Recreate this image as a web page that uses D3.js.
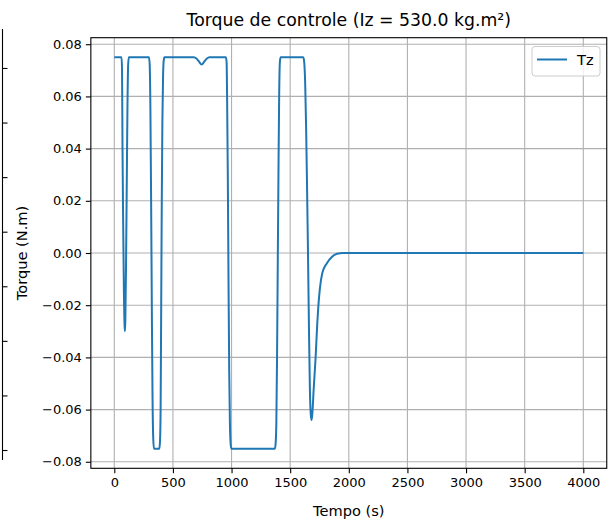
<!DOCTYPE html>
<html>
<head>
<meta charset="utf-8">
<script src="https://cdn.jsdelivr.net/npm/d3@7"></script>
<style>
  html, body { margin: 0; padding: 0; background: #fff; }
  svg { display: block; font-family: "DejaVu Sans", sans-serif; }
</style>
</head>
<body>
<svg id="chart" width="609" height="520"></svg>
<script>
// ---- Data ----
const timeS = [0, 62, 66, 70, 76, 82, 88, 91, 94, 100, 106, 112, 118, 124,
  296, 302, 308, 314, 320, 326, 332, 338, 384, 390, 395, 400, 405, 410, 416, 422, 428,
  680, 700, 720, 745, 770, 790, 810,
  952, 958, 962, 968, 974, 980, 986, 992, 998,
  1370, 1376, 1382, 1388, 1394, 1400, 1406, 1412, 1418,
  1612, 1620, 1628, 1636, 1644, 1652, 1660, 1668, 1676, 1683, 1690, 1700, 1717, 1731, 1740, 1752, 1774, 1812, 1855, 1900, 1950, 2000, 4000];
const torqueTz = [0.075, 0.075, 0.070, 0.040, 0.010, -0.015, -0.028, -0.030, -0.026, -0.005, 0.025, 0.055, 0.072, 0.075,
  0.075, 0.072, 0.055, 0.020, -0.020, -0.055, -0.071, -0.075, -0.075, -0.072, -0.060, -0.020, 0.020, 0.050, 0.068, 0.074, 0.075,
  0.075, 0.0745, 0.0735, 0.0722, 0.0735, 0.0745, 0.075,
  0.075, 0.073, 0.060, 0.030, -0.010, -0.045, -0.065, -0.073, -0.075,
  -0.075, -0.073, -0.065, -0.040, -0.005, 0.030, 0.060, 0.073, 0.075,
  0.075, 0.073, 0.065, 0.048, 0.025, 0.000, -0.028, -0.052, -0.062, -0.064, -0.061, -0.0525, -0.040, -0.027, -0.0206, -0.0142, -0.0077, -0.0040, -0.0015, -0.0003, 0, 0, 0];
const xTicks = [0, 500, 1000, 1500, 2000, 2500, 3000, 3500, 4000];
const yTicks = [-0.08, -0.06, -0.04, -0.02, 0.00, 0.02, 0.04, 0.06, 0.08];
const neighbourTicks = [1, 2, 3, 4, 5, 6, 7, 8];
const titleText = "Torque de controle (Iz = 530.0 kg.m²)";
const xLabel = "Tempo (s)";
const yLabel = "Torque (N.m)";
const seriesName = "Tz";

const data = timeS.map((t, i) => ({ t, v: torqueTz[i] }));

const svg = d3.select("#chart");
const L = 90.85, R = 606.75, T = 37.7, B = 468.3;
const x = d3.scaleLinear().domain([-200, 4200]).range([L, R]);
const y = d3.scaleLinear().domain([-0.0825, 0.0825]).range([B, T]);

// neighbouring subplot edge (partially visible at left)
const yN = d3.scaleLinear().domain([0.817, 8.714]).range([460, 29]);
const nAxis = svg.append("g").attr("transform", "translate(2.5,0)")
  .call(d3.axisRight(yN).tickValues(neighbourTicks).tickSize(5).tickFormat(""));
nAxis.select(".domain").attr("stroke", "#000").attr("stroke-width", 1.1).attr("d", "M0,29V460");
nAxis.selectAll(".tick line").attr("stroke", "#000").attr("stroke-width", 1.1);

// grid
const grid = svg.append("g");
grid.selectAll("line.gx").data(xTicks).enter().append("line")
  .attr("x1", d => x(d)).attr("x2", d => x(d)).attr("y1", T).attr("y2", B)
  .attr("stroke", "#b0b0b0").attr("stroke-width", 1.1);
grid.selectAll("line.gy").data(yTicks).enter().append("line")
  .attr("y1", d => y(d)).attr("y2", d => y(d)).attr("x1", L).attr("x2", R)
  .attr("stroke", "#b0b0b0").attr("stroke-width", 1.1);

// line
const line = d3.line().x(d => x(d.t)).y(d => y(d.v)).curve(d3.curveMonotoneX);
svg.append("path").datum(data).attr("d", line)
  .attr("fill", "none").attr("stroke", "#1f77b4").attr("stroke-width", 2)
  .attr("stroke-linejoin", "round").attr("stroke-linecap", "butt");

// axes
const xAxis = svg.append("g").attr("transform", `translate(0,${B})`)
  .call(d3.axisBottom(x).tickValues(xTicks).tickSize(5).tickPadding(4).tickFormat(d3.format("d")));
const yAxis = svg.append("g").attr("transform", `translate(${L},0)`)
  .call(d3.axisLeft(y).tickValues(yTicks).tickSize(5).tickPadding(4)
    .tickFormat(d => d3.format(".2f")(d).replace("-", "\u2212")));
[xAxis, yAxis].forEach(a => {
  a.select(".domain").remove();
  a.selectAll(".tick line").attr("stroke", "#000").attr("stroke-width", 1.1);
  a.selectAll(".tick text").attr("fill", "#000").style("font-size", "13px")
    .style("font-family", "DejaVu Sans, sans-serif");
});

// spines
svg.append("rect").attr("x", L).attr("y", T).attr("width", R - L).attr("height", B - T)
  .attr("fill", "none").attr("stroke", "#000").attr("stroke-width", 1.1);

// title and labels
svg.append("text").attr("x", (L + R) / 2).attr("y", 26).attr("text-anchor", "middle")
  .style("font-size", "17.3px").text(titleText);
svg.append("text").attr("x", (L + R) / 2).attr("y", 516).attr("text-anchor", "middle")
  .style("font-size", "14.6px").text(xLabel);
svg.append("text").attr("transform", `translate(27,${(T + B) / 2}) rotate(-90)`)
  .attr("text-anchor", "middle").style("font-size", "14.6px").text(yLabel);

// legend
const lg = svg.append("g");
lg.append("rect").attr("x", 532).attr("y", 46.5).attr("width", 68).attr("height", 29.5)
  .attr("rx", 3).attr("fill", "#fff").attr("fill-opacity", 0.8)
  .attr("stroke", "#cccccc").attr("stroke-width", 1);
lg.append("line").attr("x1", 537).attr("x2", 567).attr("y1", 59.5).attr("y2", 59.5)
  .attr("stroke", "#1f77b4").attr("stroke-width", 2);
lg.append("text").attr("x", 577).attr("y", 65).style("font-size", "14.6px").text(seriesName);
</script>
</body>
</html>
